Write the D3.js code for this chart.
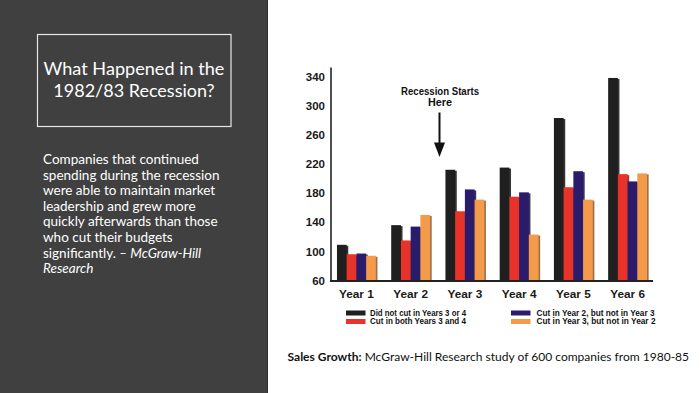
<!DOCTYPE html>
<html>
<head>
<meta charset="utf-8">
<script src="https://cdn.jsdelivr.net/npm/d3@7"></script>
<style>
  html, body { margin: 0; padding: 0; background: #fff; }
  svg { display: block; }
</style>
</head>
<body>
<svg id="chart" width="700" height="393"></svg>
<script>
// data
const years = ['Year 1', 'Year 2', 'Year 3', 'Year 4', 'Year 5', 'Year 6']
const seriesNames = [
  'Did not cut in Years 3 or 4',
  'Cut in both Years 3 and 4',
  'Cut in Year 2, but not in Year 3',
  'Cut in Year 3, but not in Year 2',
]
const didNotCut = [109, 136, 212, 215, 283, 338]
const cutBoth = [96, 115, 155, 175, 188, 206]
const cutYear2 = [97, 134, 185, 181, 210, 196]
const cutYear3 = [94, 150, 171, 123, 171, 207]
const yTicks = [60, 100, 140, 180, 220, 260, 300, 340]
const seriesColors = ['#1f1f1f', '#e8332a', '#2b1c6b', '#f39a4b']

const titleLines = ['What Happened in the', '1982/83 Recession?']
const bodyLines = [
  [['Companies that continued', false]],
  [['spending during the recession', false]],
  [['were able to maintain market', false]],
  [['leadership and grew more', false]],
  [['quickly afterwards than those', false]],
  [['who cut their budgets', false]],
  [['significantly. ', false], ['\u2013 McGraw-Hill', true]],
  [['Research', true]],
]
const annotationLines = ['Recession Starts', 'Here']

const allSeries = [didNotCut, cutBoth, cutYear2, cutYear3]
const table = years.map((year, i) => ({
  year,
  values: allSeries.map((s, k) => ({ key: seriesNames[k], k, value: s[i] })),
}))

const svg = d3.select('#chart')
const uiFont = 'Lato, "Open Sans", sans-serif'
const chartFont = '"Liberation Sans", Arial, sans-serif'

// scale font-size so the text spans a given width
function fitWidth(sel, w) {
  const len = sel.node().getComputedTextLength()
  const fs = parseFloat(sel.attr('font-size'))
  sel.attr('font-size', (fs * w) / len)
}

// condensed look: squeeze glyphs to a given width
function squeeze(sel, w) {
  sel.attr('textLength', w).attr('lengthAdjust', 'spacingAndGlyphs')
}

// left panel
svg.append('rect')
  .attr('x', 0).attr('y', 0)
  .attr('width', 267).attr('height', 393)
  .attr('fill', '#404040')
svg.append('line')
  .attr('x1', 267.5).attr('x2', 267.5)
  .attr('y1', 0).attr('y2', 393)
  .attr('stroke', '#2e2e2e').attr('stroke-width', 1)

svg.append('rect')
  .attr('x', 37.5).attr('y', 34.5)
  .attr('width', 193.5).attr('height', 92)
  .attr('fill', 'none')
  .attr('stroke', '#e8e8e8').attr('stroke-width', 1.2)

titleLines.forEach((t, i) => {
  const el = svg.append('text')
    .attr('x', 134).attr('y', 75 + i * 21.6)
    .attr('text-anchor', 'middle')
    .attr('font-family', uiFont)
    .attr('font-size', 18)
    .attr('fill', '#ffffff')
    .text(t)
  if (i === 0) fitWidth(el, 181)
})

const body = svg.append('g').attr('id', 'body')
bodyLines.forEach((parts, i) => {
  const el = body.append('text')
    .attr('x', 43).attr('y', 164 + i * 15.6)
    .attr('font-family', uiFont)
    .attr('font-size', 13)
    .attr('fill', '#ffffff')
  parts.forEach(([txt, it]) => {
    el.append('tspan')
      .attr('font-style', it ? 'italic' : 'normal')
      .text(txt)
  })
})
// match first line width, apply same size to all
{
  const first = body.select('text')
  fitWidth(first, 156)
  body.selectAll('text').attr('font-size', first.attr('font-size'))
}

// chart
const x = d3.scaleBand()
  .domain(years)
  .range([331, 653])
  .paddingInner(0.283)
  .paddingOuter(0.11)

const xInner = d3.scaleBand()
  .domain(d3.range(seriesNames.length))
  .range([0, x.bandwidth()])
  .padding(0)

const y = d3.scaleLinear()
  .domain([60, 340])
  .range([280.5, 76.5])

const plot = svg.append('g').attr('id', 'plot')

const groups = plot.selectAll('g.year')
  .data(table)
  .join('g')
  .attr('class', 'year')
  .attr('transform', (d) => `translate(${x(d.year)},0)`)

groups.each(function (d) {
  const g = d3.select(this)
  d.values.forEach((v) => {
    const bx = xInner(v.k)
    const by = y(v.value)
    const bw = xInner.bandwidth()
    const bh = y(60) - by
    // drop shadow on the right
    g.append('rect')
      .attr('x', bx + 1.6).attr('y', by + 1)
      .attr('width', bw).attr('height', bh - 1)
      .attr('fill', d3.color(seriesColors[v.k]).darker(1.6))
      .attr('opacity', 0.85)
    g.append('rect')
      .attr('x', bx).attr('y', by)
      .attr('width', bw).attr('height', bh)
      .attr('fill', seriesColors[v.k])
      .append('title').text(`${v.key}: ${v.value}`)
  })
})

// axes lines
plot.append('line')
  .attr('x1', 331).attr('x2', 331)
  .attr('y1', y(340) - 9).attr('y2', y(60) + 1)
  .attr('stroke', '#222').attr('stroke-width', 1.6)
plot.append('line')
  .attr('x1', 330).attr('x2', 653)
  .attr('y1', y(60) + 0.5).attr('y2', y(60) + 0.5)
  .attr('stroke', '#222').attr('stroke-width', 2)

// y tick labels
const yAxis = plot.append('g')
  .attr('transform', 'translate(331,0)')
  .call(d3.axisLeft(y).tickValues(yTicks).tickSize(0).tickPadding(6))
yAxis.select('.domain').remove()
yAxis.selectAll('text')
  .attr('font-family', chartFont)
  .attr('font-weight', 'bold')
  .attr('font-size', 11.5)
  .attr('fill', '#1a1a1a')

// x labels
const xAxis = plot.append('g')
  .attr('transform', `translate(0,${y(60) + 1})`)
  .call(d3.axisBottom(x).tickSize(0).tickPadding(8))
xAxis.select('.domain').remove()
xAxis.selectAll('text')
  .attr('font-family', chartFont)
  .attr('font-weight', 'bold')
  .attr('font-size', 11.8)
  .attr('fill', '#1a1a1a')

// annotation
const ann = plot.append('g').attr('id', 'annotation')
annotationLines.forEach((t, i) => {
  const el = ann.append('text')
    .attr('x', 440).attr('y', 95 + i * 10.8)
    .attr('text-anchor', 'middle')
    .attr('font-family', chartFont)
    .attr('font-weight', 'bold')
    .attr('font-size', 11.5)
    .attr('fill', '#111')
    .text(t)
  squeeze(el, [78, 24][i])
})
ann.append('line')
  .attr('x1', 439.5).attr('x2', 439.5)
  .attr('y1', 112.5).attr('y2', 145)
  .attr('stroke', '#111').attr('stroke-width', 2)
ann.append('path')
  .attr('d', 'M434,142.5 L445,142.5 L439.5,157 Z')
  .attr('fill', '#111')

// legend
const legendWidths = [96, 96, 118, 119]
const legend = plot.append('g').attr('id', 'legend')
  .attr('transform', 'translate(346,310.5)')
seriesNames.forEach((name, i) => {
  const col = Math.floor(i / 2)
  const row = i % 2
  const item = legend.append('g')
    .attr('transform', `translate(${col * 165},${row * 8.5})`)
  item.append('rect')
    .attr('x', 0).attr('y', 0)
    .attr('width', 19.5).attr('height', 5)
    .attr('fill', seriesColors[i])
  const el = item.append('text')
    .attr('x', col === 0 ? 24 : 25.5).attr('y', 2.6)
    .attr('dy', '0.35em')
    .attr('font-family', chartFont)
    .attr('font-weight', 'bold')
    .attr('font-size', 8.2)
    .attr('fill', '#111')
    .text(name)
  squeeze(el, legendWidths[i])
})

// caption
const cap = svg.append('text')
  .attr('x', 287.5).attr('y', 361)
  .attr('font-family', uiFont)
  .attr('font-size', 13)
  .attr('fill', '#111')
cap.append('tspan').attr('font-weight', 'bold').text('Sales Growth:')
cap.append('tspan').text(' McGraw-Hill Research study of 600 companies from 1980-85')
fitWidth(cap, 402)
</script>
</body>
</html>
